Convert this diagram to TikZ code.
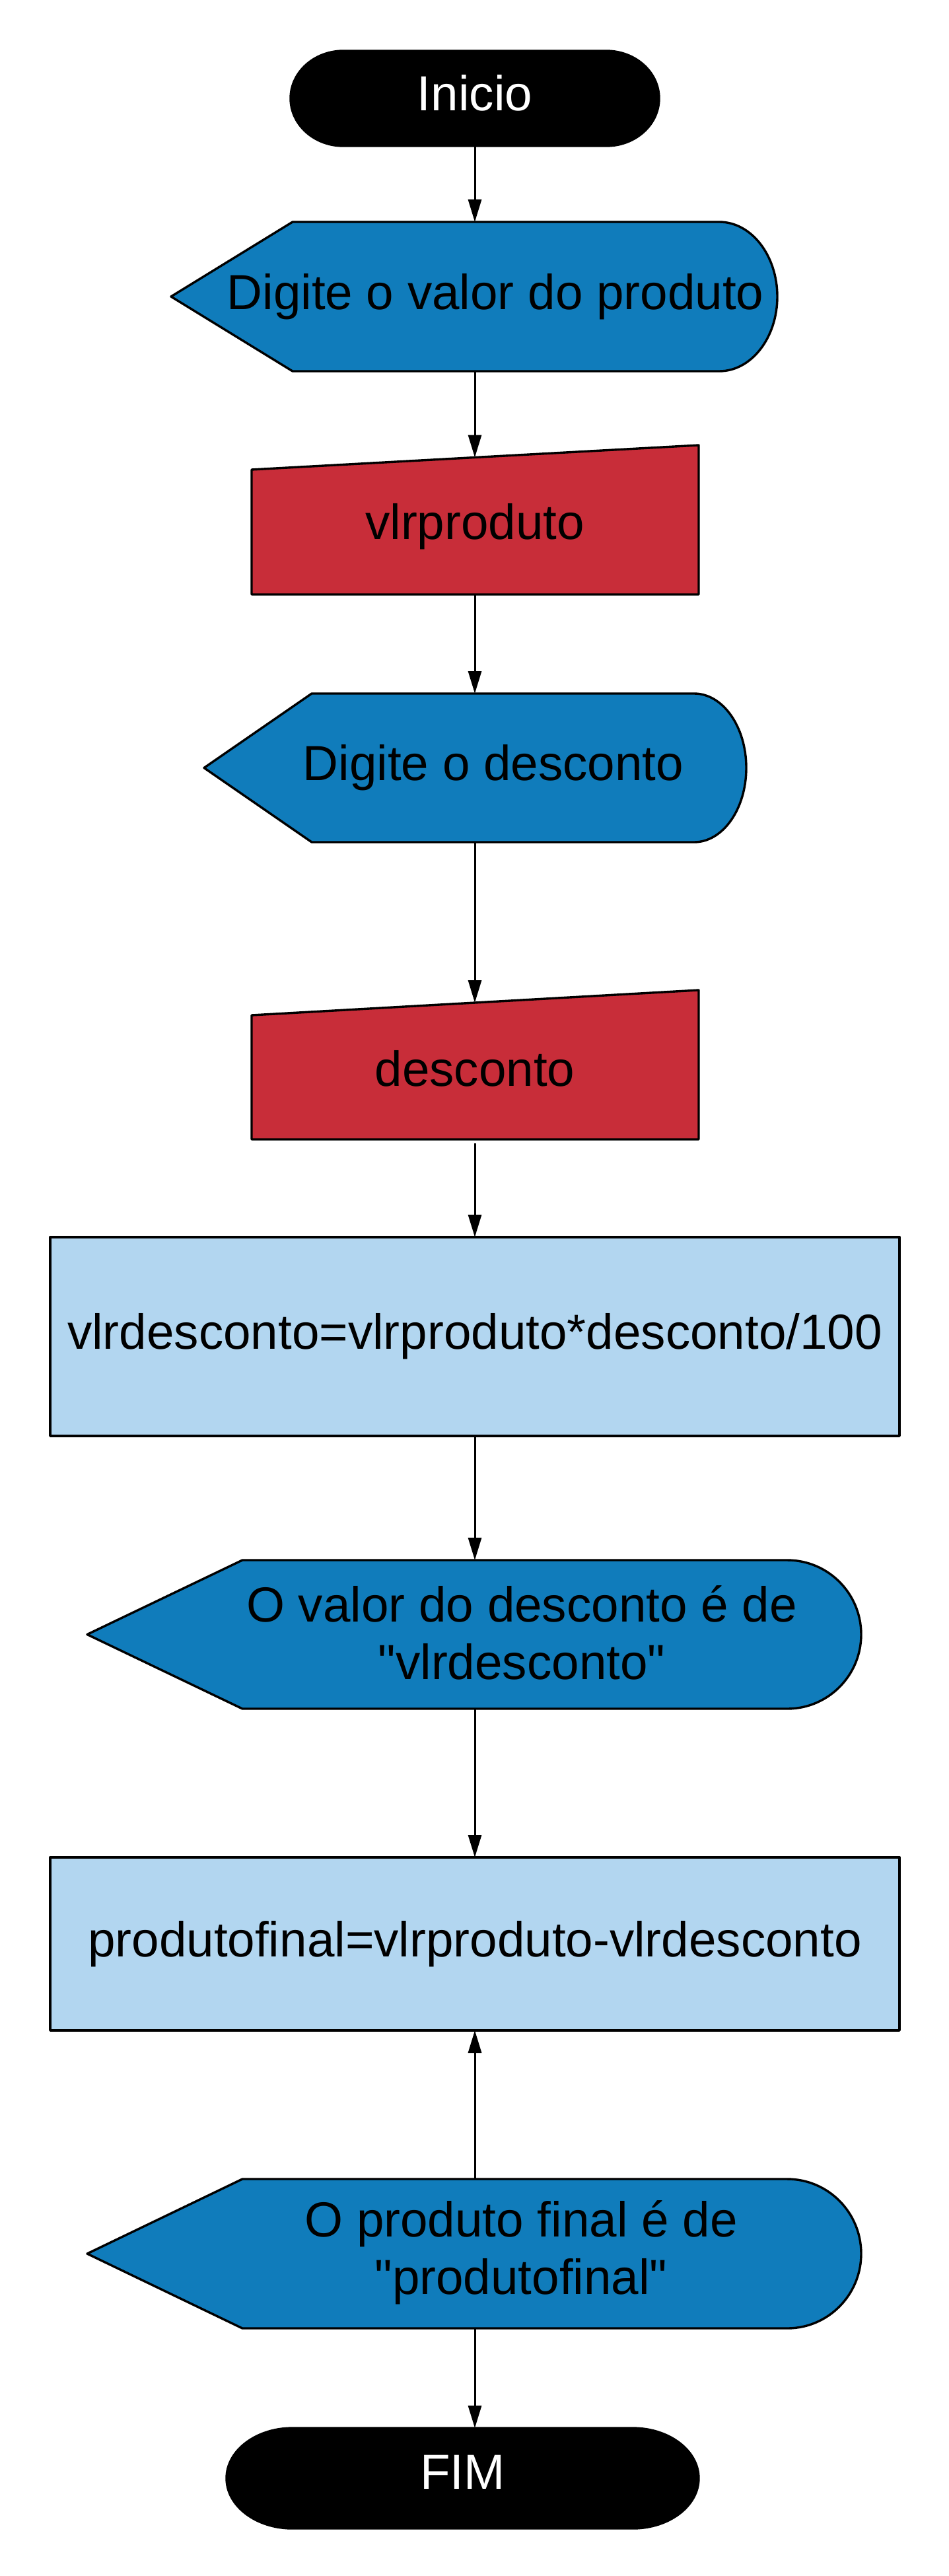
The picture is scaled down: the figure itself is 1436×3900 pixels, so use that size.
\documentclass[tikz,border=0pt]{standalone}
\usepackage{fontspec}
\setmainfont{Liberation Sans}[Ligatures=TeXOff]
\usetikzlibrary{arrows.meta,calc}
\definecolor{dispblue}{RGB}{16,124,187}
\definecolor{inred}{RGB}{200,45,57}
\definecolor{procblue}{RGB}{178,214,240}
\begin{document}
\begin{tikzpicture}[x=0.5pt,y=-0.5pt,
  shp/.style={draw=black, line width=1.7pt, line join=round},
  hold/.style 2 args={inner sep=0pt, outer sep=0pt, minimum width=#1*0.5pt, minimum height=#2*0.5pt},
  txt/.style={font=\fontsize{37.3pt}{43.5pt}\selectfont, align=center, inner sep=0pt},
  conn/.style={draw=black, line width=1.5pt, -{Triangle[length=17pt,width=10pt]}}
]
\fill[white] (0,0) rectangle (1436,3900);
\useasboundingbox (0,0) rectangle (1436,3900);

% ---- shapes ----
\draw[shp, fill=black] (520,77) -- (918,77)
  arc[start angle=-90, end angle=90, x radius=80, y radius=72] -- (520,221)
  arc[start angle=90, end angle=270, x radius=80, y radius=72] -- cycle;
\draw[shp, fill=dispblue] (259,449) -- (443,336) -- (1089,336)
  arc[start angle=-90, end angle=90, x radius=88, y radius=113] -- (443,562) -- cycle;
\draw[shp, fill=inred] (381,711) -- (1058,674) -- (1058,900) -- (381,900) -- cycle;
\draw[shp, fill=dispblue] (309,1162.5) -- (472,1050) -- (1051,1050)
  arc[start angle=-90, end angle=90, x radius=79, y radius=112.5] -- (472,1275) -- cycle;
\draw[shp, fill=inred] (381,1537) -- (1058,1499) -- (1058,1725) -- (381,1725) -- cycle;
\draw[shp, fill=procblue] (76,1873) rectangle (1362,2174);
\draw[shp, fill=dispblue] (132,2474.5) -- (367,2362) -- (1192,2362)
  arc[start angle=-90, end angle=90, x radius=112, y radius=112.5] -- (367,2587) -- cycle;
\draw[shp, fill=procblue] (76,2812) rectangle (1362,3074);
\draw[shp, fill=dispblue] (132,3412) -- (367,3299) -- (1192,3299)
  arc[start angle=-90, end angle=90, x radius=112, y radius=113] -- (367,3525) -- cycle;
\draw[shp, fill=black] (443,3676) -- (958,3676)
  arc[start angle=-90, end angle=90, x radius=100, y radius=76] -- (443,3828)
  arc[start angle=90, end angle=270, x radius=100, y radius=76] -- cycle;

% ---- named nodes ----
\node[hold={558}{144}] (ini) at (719,149) {};
\node[txt, text=white] (init) at (719,141) {Inicio};
\node[hold={918}{226}] (d1) at (719,449) {};
\node[txt] (d1t) at (750,449) {Digite o valor do produto};
\node[hold={677}{226}] (vp) at (719,787) {};
\node[txt] (vpt) at (719,797) {vlrproduto};
\coordinate (vpin) at (719,692.5);
\node[hold={821}{225}] (d2) at (719,1162.5) {};
\node[txt] (d2t) at (747,1162.5) {Digite o desconto};
\node[hold={677}{226}, txt] (de) at (719,1618) {desconto};
\coordinate (dein) at (719,1518);
\node[hold={1286}{301}, txt] (c1) at (719,2023.5) {vlrdesconto=vlrproduto*desconto/100};
\node[hold={1172}{225}] (d3) at (719,2474.5) {};
\node[txt] (d3t) at (790,2472) {O valor do desconto é de\\"vlrdesconto"};
\node[hold={1286}{262}, txt] (c2) at (719,2943) {produtofinal=vlrproduto-vlrdesconto};
\node[hold={1172}{226}] (d4) at (719,3412) {};
\node[txt] (d4t) at (789,3410) {O produto final é de\\"produtofinal"};
\node[hold={715}{152}] (fim) at (700.5,3752) {};
\node[txt, text=white] (fimt) at (700.5,3743) {FIM};

% ---- connectors ----
\draw[conn] (ini.south) -- (d1.north);
\draw[conn] (d1.south) -- (vpin);
\draw[conn] (vp.south) -- (d2.north);
\draw[conn] (d2.south) -- (dein);
\draw[conn] (de.south) -- (c1.north);
\draw[conn] (c1.south) -- (d3.north);
\draw[conn] (d3.south) -- (c2.north);
\draw[conn] (d4.north) -- (c2.south);
\draw[conn] (d4.south) -- (d4.south |- fim.north);
\end{tikzpicture}
\end{document}
